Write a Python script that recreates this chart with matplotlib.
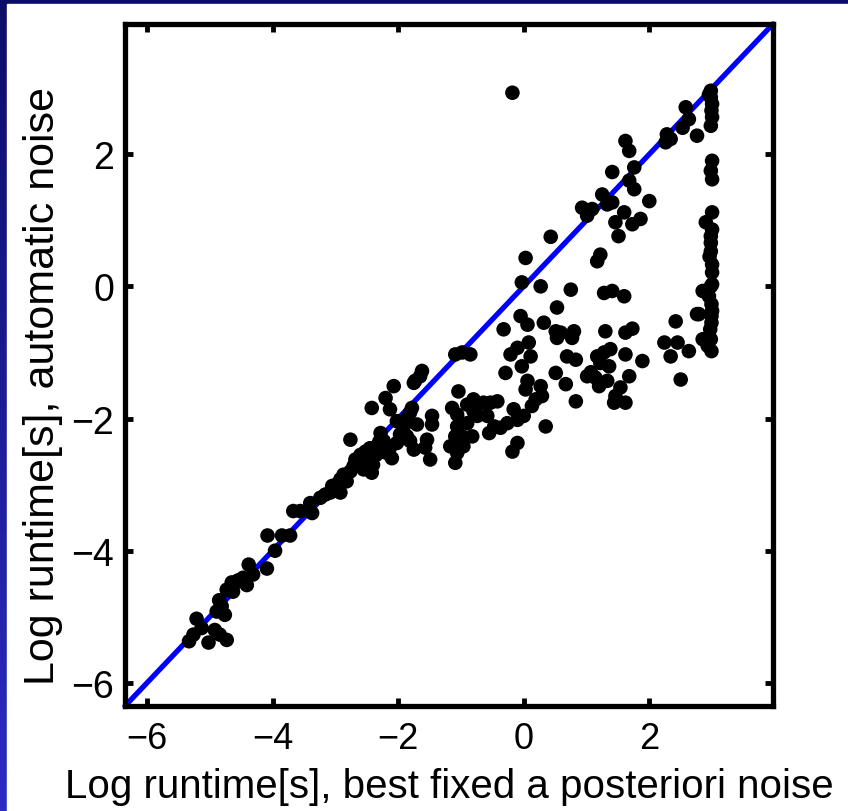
import matplotlib.pyplot as plt
import numpy as np
from matplotlib.colors import LinearSegmentedColormap
from matplotlib.patches import Rectangle

plt.rcParams['font.family'] = ['Liberation Sans', 'DejaVu Sans']

# Log runtimes: best fixed a posteriori noise (x) vs automatic noise (y)
# lower-left cluster along the diagonal
low_x = [-4.08, -3.85, -3.72, -3.96, -4.38, -4.09, -4.31, -4.47, -4.41, -4.65, -4.73, -4.63,
         -4.81, -4.76, -4.89, -5.21, -5.13, -5.26, -5.33, -4.92, -4.84, -4.73, -5.02, -4.55, -4.85]
low_y = [-3.77, -3.77, -3.77, -4.00, -4.21, -4.27, -4.36, -4.41, -4.52, -4.48, -4.59, -4.62,
         -4.84, -4.97, -4.92, -5.03, -5.17, -5.27, -5.37, -5.20, -5.27, -5.35, -5.39, -4.45, -4.75]

# band between -4 and -1.5
mid_x = [-3.67, -3.56, -3.40, -3.37, -3.24, -3.16, -3.08, -3.00, -2.92, -2.98, -2.92, -2.87,
         -2.76, -2.71, -2.68, -2.76, -2.60, -2.52, -2.47, -2.42, -2.55, -2.60, -2.42, -2.20,
         -2.07, -2.13, -2.28, -2.34, -2.23, -2.13, -2.10, -2.39, -2.18, -2.02, -1.91, -1.86,
         -1.97, -2.02, -1.81, -1.78, -1.81, -1.86, -1.75, -1.70, -1.75, -1.65, -1.62, -1.46,
         -1.46, -1.54, -1.57, -1.49, -2.45, -2.50, -2.35, -2.65, -2.82, -3.05, -2.30, -2.25,
         -2.57, -2.40, -1.95]
mid_y = [-3.40, -3.40, -3.28, -3.43, -3.20, -3.15, -3.12, -3.08, -3.12, -3.00, -2.92, -2.85,
         -2.80, -2.72, -2.62, -2.32, -2.55, -2.50, -2.60, -2.82, -2.77, -2.72, -1.84, -1.69,
         -1.51, -1.86, -2.22, -2.42, -2.34, -2.44, -2.60, -2.47, -2.52, -2.04, -2.12, -2.27,
         -2.24, -2.37, -2.34, -1.84, -1.91, -1.99, -2.47, -2.09, -1.46, -1.36, -1.28, -1.96,
         -2.09, -2.32, -2.44, -2.62, -2.45, -2.65, -2.55, -2.68, -2.95, -3.02, -2.35, -2.50,
         -2.60, -2.70, -2.30]

# spread below the diagonal around x = -1 .. 0.5
spread_x = [-1.09, -0.98, -0.85, -1.73, -1.04, -1.14, -1.06, -1.06, -1.09, -1.17, -1.06, -1.09,
            -0.96, -0.98, -0.90, -0.80, -0.80, -0.74, -0.82, -0.64, -0.53, -0.42, -0.58, -0.55,
            -0.47, -0.37, -0.26, -0.16, -0.10, 0.00, -0.18, -0.10, 0.13, 0.19, 0.29, 0.27,
            0.35, 0.06, 0.03, -0.32, -0.21, -0.10, 0.08, 0.11, -0.03, -0.29, -0.05, 0.06,
            0.32, 0.51, 0.53, 0.53, 0.51, -0.90, -0.77]
spread_y = [-1.03, -1.00, -1.03, -1.43, -1.59, -1.84, -1.94, -2.12, -2.27, -2.42, -2.52, -2.67,
            -2.42, -2.27, -2.07, -1.71, -1.89, -1.96, -2.27, -1.76, -1.76, -1.74, -1.96, -2.22,
            -2.12, -2.14, -2.07, -1.86, -2.02, -1.96, -2.50, -2.37, -1.81, -1.71, -1.66, -1.51,
            -2.12, -1.43, -1.56, -0.65, -1.03, -0.93, -0.85, -1.06, -1.21, -1.31, -0.45, -0.58,
            -0.55, -0.68, -0.78, -0.32, -1.31, -1.79, -1.89]

# spread on the right, x = 0.3 .. 2.8
right_x = [0.27, 0.75, 0.59, 0.80, 0.77, 1.28, 1.41, 1.60, 1.30, 1.62, 1.73, 0.69, 0.83, 0.67,
           0.83, 1.17, 1.28, 1.38, 1.22, 1.36, 1.62, 1.89, 1.01, 1.14, 1.20, 1.33, 1.68, 1.54,
           1.46, 1.62, 1.44, 2.42, 2.24, 2.45, 2.34, 2.63, 2.50, 2.79, 1.07]
right_y = [0.00, -0.05, -0.70, -0.68, -0.78, -0.10, -0.07, -0.15, -0.68, -0.70, -0.64, -1.06,
           -1.11, -1.48, -1.74, -1.06, -1.00, -0.95, -1.16, -1.21, -1.03, -1.13, -1.36, -1.38,
           -1.51, -1.43, -1.36, -1.53, -1.66, -1.76, -1.76, -0.53, -0.85, -0.85, -1.06, -0.98,
           -1.41, -0.42, -1.30]

# upper part near / above the diagonal
upper_x = [-0.18, 2.58, 2.63, 2.53, 2.76, 2.28, 2.34, 2.26, 1.62, 1.68, 1.76, 1.41, 1.68, 1.76,
           2.00, 1.25, 1.33, 1.41, 0.93, 1.01, 1.09, 1.60, 1.46, 1.73, 1.86, 1.51, 0.43, 1.22,
           1.17, 0.03, -0.03]
upper_y = [2.93, 2.71, 2.53, 2.40, 2.28, 2.30, 2.23, 2.18, 2.20, 2.05, 1.80, 1.73, 1.60, 1.47,
           1.29, 1.39, 1.24, 1.27, 1.19, 1.07, 1.17, 1.12, 0.97, 0.94, 1.02, 0.76, 0.75, 0.48,
           0.38, 0.43, 0.06]

# timeout column at x ~ 3
col_x = [2.98, 2.98, 3.00, 2.99, 3.00, 2.98, 2.95, 3.00, 2.98, 3.00, 3.00, 2.90, 3.00, 2.98,
         2.98, 2.98, 3.00, 3.00, 3.00, 2.98, 2.85, 2.95, 2.99, 3.00, 2.99, 2.99, 2.85, 2.98,
         2.93, 2.99, 2.97, 2.76, 2.96]
col_y = [2.96, 2.86, 2.76, 2.66, 2.56, 2.43, 2.90, 1.90, 1.75, 1.62, 1.12, 0.97, 0.86, 0.76,
         0.66, 0.53, 0.33, 0.21, 0.03, -0.00, -0.07, -0.15, -0.27, -0.37, -0.45, -0.55, -0.80,
         -0.80, -0.90, -0.98, -0.65, -0.42, 0.45]

x = np.array(low_x + mid_x + spread_x + right_x + upper_x + col_x)
y = np.array(low_y + mid_y + spread_y + right_y + upper_y + col_y)

lims = [-6.35, 3.97]
ticks = [-6, -4, -2, 0, 2]

fig = plt.figure(figsize=(8.48, 8.12), dpi=100)

# slide background: navy gradient with a white panel
bg = fig.add_axes([0, 0, 1, 1], zorder=-10)
grad = np.linspace(0, 1, 256).reshape(-1, 1)
cmap = LinearSegmentedColormap.from_list('slide', ['#0c0c68', '#2c2cc4'])
bg.imshow(grad, aspect='auto', cmap=cmap, extent=[0, 1, 0, 1], origin='upper')
bg.add_patch(Rectangle((7 / 848, 0), 1, 1 - 5 / 812, color='white', transform=bg.transAxes))
bg.set_xlim(0, 1)
bg.set_ylim(0, 1)
bg.axis('off')

ax = fig.add_axes([125 / 848, 105 / 812, 648 / 848, 682 / 812])
ax.plot(lims, lims, color='#0000ff', lw=3.8, zorder=1, solid_capstyle='round', clip_on=False)
ax.scatter(x, y, s=110, color='black', edgecolors='none', zorder=2, clip_on=False)

ax.set_xlim(lims)
ax.set_ylim(lims)
ax.set_xticks(ticks)
ax.set_yticks(ticks)
ax.tick_params(direction='in', length=6, width=3.5, top=True, right=True, labelsize=26, pad=11)
ax.tick_params(axis='y', labelsize=27, pad=8)
for s in ax.spines.values():
    s.set_linewidth(3.8)

ax.set_xlabel('Log runtime[s], best fixed a posteriori noise', fontsize=29)
ax.set_ylabel('Log runtime[s], automatic noise', fontsize=31)
ax.xaxis.set_label_coords(0.5, -0.09)
ax.yaxis.set_label_coords(-0.095, 0.47)

fig.savefig('out.png', dpi=100)
